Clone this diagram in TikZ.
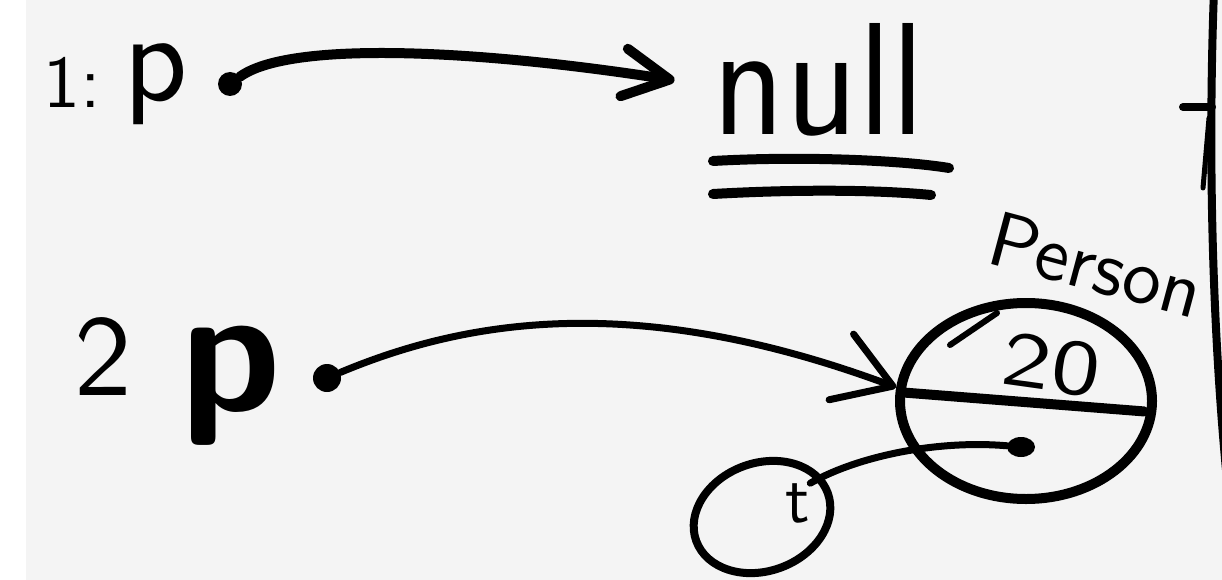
\documentclass[tikz,border=0pt]{standalone}
\usepackage{fontspec}
\usetikzlibrary{arrows.meta,shapes.geometric}
\definecolor{paper}{HTML}{F4F4F4}
\tikzset{
  pen/.style={line width=#1, line cap=round, line join=round},
  pen/.default=9pt,
  word/.style={inner sep=0pt, outer sep=0pt, anchor=base, font=\sffamily\fontsize{10}{12}\selectfont},
  blob/.style={circle, fill=black, inner sep=0pt, minimum size=#1},
  barb/.style args={#1/#2}{-{Straight Barb[length=#1, width=#2, line cap=round, line join=round]}},
  cell/.style={ellipse, draw, inner sep=0pt}
}
\begin{document}
\begin{tikzpicture}[x=1pt,y=-1pt]
\useasboundingbox (0,0) rectangle (1222,580);
\fill[paper] (0,0) rectangle (1222,580);
\fill[white] (0,0) rectangle (26,580);

% line 1: p points to null
\node[word, scale=7.4] (one) at (72,108) {1:};
\node[word, scale=12.5] (p1) at (156,101) {p};
\node[blob=24pt] (dot1) at (230,84) {};
\node[word, scale=16, xscale=0.88, inner xsep=2.7pt] (null) at (819,135) {null};
\draw[pen=10pt] (713,161) .. controls (800,156) and (900,160) .. (949,168);
\draw[pen=10pt] (713,194) .. controls (800,189) and (880,190) .. (931,195);
\draw[pen=10pt, barb=46pt/48pt] (dot1) .. controls (290,40) and (480,50) .. (null.west);

% line 2: p points to a Person object
\node[word, scale=11.5] (two) at (103,395) {2};
\node[word, scale=18] (p2) at (231,410) {\bfseries p};
\node[blob=28pt] (dot2) at (327,378) {};
\node[cell, pen=10pt, minimum width=252pt, minimum height=196pt] (obj) at (1026,401) {};
\node[word, rotate=-8, scale=7.8, xscale=1.25] (age) at (1048,390) {20};
\node[word, anchor=base west, rotate=-15, scale=7.8] (cls) at (984,262) {Person};
\draw[pen=10pt, shorten <=10pt, shorten >=12pt] (obj.176) -- (obj.-5);
\draw[pen=6pt] (950,345) -- (997,313);
\node[ellipse, fill=black, inner sep=0pt, minimum width=28pt, minimum height=20pt] (ref) at (1021,447) {};
\node[cell, pen=8pt, rotate=20, minimum width=140pt, minimum height=108pt] (tcell) at (762,517) {};
\node[word, scale=6.8] (tval) at (798,522) {t};
\draw[pen=7pt] (ref) .. controls (940,440) and (860,455) .. (tval.north east);
\draw[pen=7pt, barb=55pt/70pt] (dot2) .. controls (470,318) and (640,292) .. (obj.174);

% margin rule with a tick
\draw[pen=8pt] (1214,-10) .. controls (1208,150) and (1212,320) .. (1226,470);
\draw[pen=8pt] (1183,107) -- (1212,107);
\draw[pen=5pt] (1209,118) -- (1203,188);
\end{tikzpicture}
\end{document}
